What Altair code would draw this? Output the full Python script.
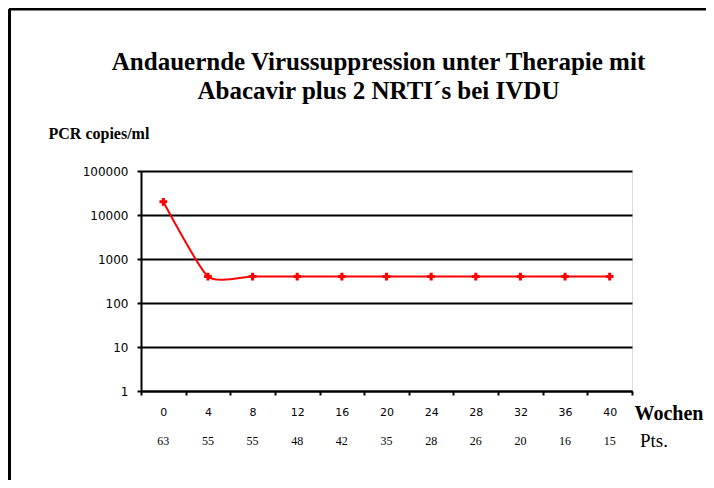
import altair as alt
import pandas as pd

weeks = ["0", "4", "8", "12", "16", "20", "24", "28", "32", "36", "40"]
pcr = [20000, 400, 400, 400, 400, 400, 400, 400, 400, 400, 400]
pts = ["63", "55", "55", "48", "42", "35", "28", "26", "20", "16", "15"]
y_ticks = [1, 10, 100, 1000, 10000, 100000]
title_lines = ["Andauernde Virussuppression unter Therapie mit", "Abacavir plus 2 NRTI´s bei IVDU"]

df = pd.DataFrame({"week": weeks, "pcr": pcr, "pts": pts})

W, H = 491, 220

xenc = alt.X(
    "week:O",
    sort=weeks,
    bandPosition=0.5,
    scale=alt.Scale(type="band", paddingInner=0, paddingOuter=0),
    axis=alt.Axis(
        title="Wochen",
        labelAngle=0,
        tickBand="extent",
        tickSize=4,
        tickWidth=2,
        tickColor="black",
        domainColor="black",
        domainWidth=2,
        labelPadding=11,
        labelFont="DejaVu Sans",
        labelFontSize=11,
        labelColor="black",
        titleFont="Liberation Serif",
        titleFontSize=20,
        titleFontWeight="bold",
        titleColor="black",
        titleAngle=0,
        titleAlign="left",
        titleBaseline="alphabetic",
        titleX=W + 2,
        titleY=28,
    ),
)

yenc = alt.Y(
    "pcr:Q",
    scale=alt.Scale(type="log", domain=[1, 100000]),
    axis=alt.Axis(
        title="PCR copies/ml",
        values=y_ticks,
        format="d",
        grid=True,
        gridColor="black",
        gridWidth=2,
        gridOpacity=1,
        tickSize=4,
        tickWidth=2,
        tickColor="black",
        domainColor="black",
        domainWidth=2,
        labelPadding=9,
        labelFont="DejaVu Sans",
        labelFontSize=12,
        labelColor="black",
        titleFont="Liberation Serif",
        titleFontSize=16,
        titleFontWeight="bold",
        titleColor="black",
        titleAngle=0,
        titleAlign="left",
        titleBaseline="alphabetic",
        titleX=-93,
        titleY=-33,
    ),
)

base = alt.Chart(df)

line = base.mark_line(color="#ff0000", strokeWidth=2, interpolate="cardinal", tension=0.4).encode(x=xenc, y=yenc)
points = base.mark_point(shape="cross", filled=True, color="#ff0000", size=60, opacity=1).encode(x=xenc, y=yenc)

pts_text = base.mark_text(font="Liberation Serif", fontSize=12, color="black").encode(
    x=alt.X("week:O", sort=weeks, bandPosition=0.5),
    y=alt.value(H + 50),
    text="pts:N",
)
pts_label = alt.Chart(pd.DataFrame({"t": ["Pts."]})).mark_text(
    font="Liberation Serif", fontSize=19, color="black", align="left"
).encode(x=alt.value(W + 8), y=alt.value(H + 50), text="t:N")

title1 = alt.Chart(pd.DataFrame({"t": [title_lines[0]]})).mark_text(
    font="Liberation Serif", fontSize=25, fontWeight="bold", color="black", align="center", baseline="middle"
).encode(x=alt.value(W / 2 - 8), y=alt.value(-109), text="t:N")
title2 = alt.Chart(pd.DataFrame({"t": [title_lines[1]]})).mark_text(
    font="Liberation Serif", fontSize=25, fontWeight="bold", color="black", align="center", baseline="middle"
).encode(x=alt.value(W / 2 - 8), y=alt.value(-80), text="t:N")

border = alt.Chart(pd.DataFrame({"a": [0]})).mark_rule(color="black", strokeWidth=3).encode(
    x=alt.value(-132), x2=alt.value(W + 74), y=alt.value(-162)
)
border_left = alt.Chart(pd.DataFrame({"a": [0]})).mark_rule(color="black", strokeWidth=3).encode(
    x=alt.value(-131.5), y=alt.value(-162), y2=alt.value(H + 89)
)

chart = (
    alt.layer(line, points, pts_text, pts_label, title1, title2, border, border_left)
    .properties(
        width=W,
        height=H,
        autosize=alt.AutoSizeParams(type="none"),
        padding={"left": 133, "top": 163, "right": 74, "bottom": 89},
    )
    .configure_view(stroke=None)
    .configure(background="white")
)

chart.save("out.html", embed_options={"renderer": "svg", "actions": False})
